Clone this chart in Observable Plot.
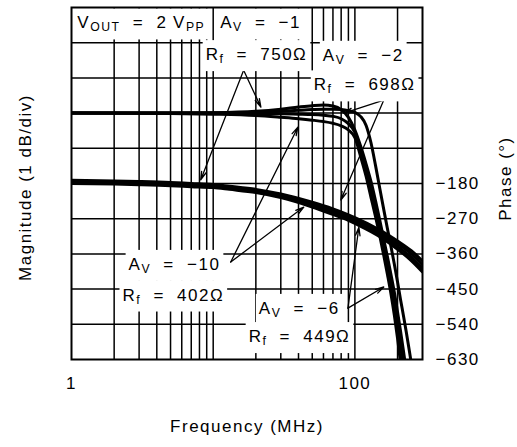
<!DOCTYPE html>
<html>
<head>
<meta charset="utf-8">
<script src="https://cdn.jsdelivr.net/npm/d3@7"></script>
<script src="https://cdn.jsdelivr.net/npm/@observablehq/plot@0.6"></script>
<style>
  html, body { margin: 0; padding: 0; background: #fff; }
</style>
</head>
<body>
<script>
// Axis ticks and grid
const freqTicks = [1, 100];
const gridFreqs = [2, 3, 4, 5, 6, 7, 8, 9, 10, 20, 30, 40, 50, 60, 70, 80, 90, 100, 200];
const gridLevels = [-6, -5, -4, -3, -2, -1, 0, 1, 2];
const phaseTicks = [-180, -270, -360, -450, -540, -630];

// Gain settings (one magnitude and one phase trace each)
const gains = ["A_V = −1", "A_V = −2", "A_V = −6", "A_V = −10"];

// Normalised magnitude response, dB
const magFreq = [1, 5, 10, 20, 30, 40, 50, 60, 70, 80, 90, 100, 110, 120, 130, 140, 150, 160, 170, 180, 190, 200, 210, 220, 230, 240, 250, 260];
const magAv1  = [0, 0, 0.01, 0.05, 0.11, 0.17, 0.21, 0.23, 0.2, 0.1, -0.12, -0.48, -0.95, -1.45, -1.95, -2.5, -3.05, -3.6, -4.1, -4.6, -5.1, -5.65, -6.2, -6.75, -7.3, -7.8, -8.3, -8.8];
const magAv2  = [0, 0, 0, 0.02, 0.05, 0.08, 0.1, 0.11, 0.11, 0.1, 0.07, 0.02, -0.1, -0.35, -0.85, -1.5, -2.15, -2.75, -3.3, -3.8, -4.3, -4.8, -5.3, -5.75, -6.2, -6.65, -7.1, -7.55];
const magAv6  = [0, 0, 0, -0.01, -0.02, -0.03, -0.04, -0.06, -0.09, -0.16, -0.3, -0.55, -1.05, -1.6, -2.15, -2.7, -3.25, -3.8, -4.35, -4.9, -5.45, -6.0, -6.6, -7.2, -7.8, -8.4, -9.0, -9.6];
const magAv10 = [0, -0.01, -0.03, -0.07, -0.12, -0.16, -0.2, -0.24, -0.29, -0.36, -0.48, -0.7, -1.25, -1.8, -2.4, -2.95, -3.5, -4.05, -4.6, -5.15, -5.75, -6.4, -7.1, -7.8, -8.5, -9.2, -9.9, -10.6];

// Phase response, degrees
const phaseFreq = [1, 2, 3, 5, 7, 10, 13, 20, 30, 50, 70, 90, 100, 150, 200, 250, 300];
const phaseAv1  = [-172, -173.5, -175, -177.5, -180, -182.5, -187, -195, -207, -228, -245, -260, -267, -299, -327, -352, -378];
const phaseAv2  = [-175, -176.5, -178, -180.5, -183, -185.5, -190, -198, -210, -232, -250, -265, -272, -305, -334, -360, -388];
const phaseAv6  = [-177, -178.5, -180, -182.5, -185, -187.5, -192, -200, -213, -236, -254, -269, -276, -310, -341, -369, -398];
const phaseAv10 = [-180, -181.5, -183, -185.5, -188, -190.5, -195, -203, -216, -240, -259, -274, -282, -316, -348, -377, -406];

// The phase axis shares the vertical scale: 90° per 1 dB division, −630° at the bottom
const phaseToLevel = p => -7 + (p + 630) / 90;
const levelToPhase = v => (v + 7) * 90 - 630;

const magRows = [magAv1, magAv2, magAv6, magAv10].flatMap((vals, i) =>
  magFreq.map((f, j) => ({freq: f, level: vals[j], gain: gains[i]})));
const phaseRows = [phaseAv1, phaseAv2, phaseAv6, phaseAv10].flatMap((vals, i) =>
  phaseFreq.map((f, j) => ({freq: f, level: phaseToLevel(vals[j]), gain: gains[i]})));

// Callout labels ("_{...}" marks a subscript) and their leader arrows
const notes = [
  {label: "V_{OUT} = 2\u2005V_{PP}", freq: 1.1, level: 2.56},
  {label: "A_{V} = −1", freq: 11.2, level: 2.56},
  {label: "R_{f} = 750Ω", freq: 8.85, level: 1.66},
  {label: "A_{V} = −2", freq: 59.4, level: 1.64},
  {label: "R_{f} = 698Ω", freq: 51.3, level: 0.8},
  {label: "A_{V} = −10", freq: 2.53, level: -4.3},
  {label: "R_{f} = 402Ω", freq: 2.29, level: -5.17},
  {label: "A_{V} = −6", freq: 21.0, level: -5.55},
  {label: "R_{f} = 449Ω", freq: 17.8, level: -6.35}
];
const leaders = [
  {f1: 16.4, v1: 1.22, f2: 21.7, v2: 0.17},
  {f1: 16.4, v1: 1.22, f2: 8.16, v2: -1.9},
  {f1: 160, v1: 0.37, f2: 83.6, v2: 0.0},
  {f1: 160, v1: 0.37, f2: 79.6, v2: -2.47},
  {f1: 13.3, v1: -4.23, f2: 39.6, v2: -0.4},
  {f1: 13.3, v1: -4.23, f2: 43.6, v2: -2.67},
  {f1: 89.3, v1: -5.54, f2: 106.7, v2: -3.24},
  {f1: 89.3, v1: -5.54, f2: 160, v2: -4.94}
];

const chart = Plot.plot({
  width: 517,
  height: 447,
  marginLeft: 71,
  marginRight: 95,
  marginTop: 7,
  marginBottom: 88,
  style: {fontFamily: "'Liberation Sans', Arial, sans-serif", fontSize: "17px", letterSpacing: "1.5px", color: "black", background: "white"},
  x: {type: "log", domain: [1, 300], ticks: freqTicks, tickFormat: d => String(d), tickSize: 0, tickPadding: 17, label: null},
  y: {
    domain: [-7, 3], axis: "right", label: null,
    ticks: phaseTicks.map(phaseToLevel),
    tickFormat: d => { const p = Math.round(levelToPhase(d)); return p < 0 ? "−" + (-p) : String(p); },
    tickSize: 0, tickPadding: 13
  },
  marks: [
    Plot.ruleX(gridFreqs, {stroke: "black", strokeWidth: 1.5}),
    Plot.ruleY(gridLevels, {stroke: "black", strokeWidth: 1.5}),
    Plot.line(phaseRows, {x: "freq", y: "level", z: "gain", stroke: "black", strokeWidth: 3, curve: "monotone-x", clip: true}),
    Plot.line(magRows, {x: "freq", y: "level", z: "gain", stroke: "black", strokeWidth: 3, curve: "monotone-x", clip: true}),
    Plot.arrow(leaders, {x1: "f1", y1: "v1", x2: "f2", y2: "v2", stroke: "black", strokeWidth: 1.3, headLength: 10, headAngle: 30}),
    Plot.text(notes, {x: "freq", y: "level", text: "label", textAnchor: "start", fill: "black"}),
    Plot.text(["Magnitude (1 dB/div)"], {text: d => d, frameAnchor: "left", textAnchor: "middle", rotate: -90, dx: -46, dy: 4, fill: "black"}),
    Plot.text(["Phase (°)"], {text: d => d, frameAnchor: "right", textAnchor: "middle", rotate: -90, dx: 83, dy: -5, fill: "black"}),
    Plot.text(["Frequency (MHz)"], {text: d => d, frameAnchor: "bottom", dy: 72, fill: "black"}),
    Plot.frame({stroke: "black", strokeWidth: 2})
  ]
});
document.body.append(chart);

// Turn "_{...}" into subscripts, then put a white box behind each callout
const svgNS = "http://www.w3.org/2000/svg";
const noteGroup = chart.querySelectorAll('g[aria-label="text"]')[0];
noteGroup.setAttribute("word-spacing", "6");
const noteTexts = Array.from(noteGroup.querySelectorAll("text"));
for (const t of noteTexts) {
  const parts = t.textContent.split(/_\{([^}]*)\}/);
  t.textContent = "";
  let lowered = false;
  parts.forEach((s, i) => {
    if (!s) return;
    const span = document.createElementNS(svgNS, "tspan");
    span.textContent = s;
    if (i % 2) {
      span.setAttribute("font-size", "0.72em");
      if (!lowered) span.setAttribute("dy", "3");
      lowered = true;
    } else if (lowered) {
      span.setAttribute("dy", "-3");
      lowered = false;
    }
    t.appendChild(span);
  });
}
const padX = 3, padY = 5;
for (const t of noteTexts) {
  const b = t.getBBox();
  const r = document.createElementNS(svgNS, "rect");
  r.setAttribute("x", b.x - padX);
  r.setAttribute("y", b.y - padY);
  r.setAttribute("width", b.width + 2 * padX);
  r.setAttribute("height", b.height + 2 * padY);
  r.setAttribute("fill", "white");
  r.setAttribute("stroke", "none");
  const tr = t.getAttribute("transform");
  if (tr) r.setAttribute("transform", tr);
  noteGroup.insertBefore(r, noteGroup.firstChild);
}
</script>
</body>
</html>
